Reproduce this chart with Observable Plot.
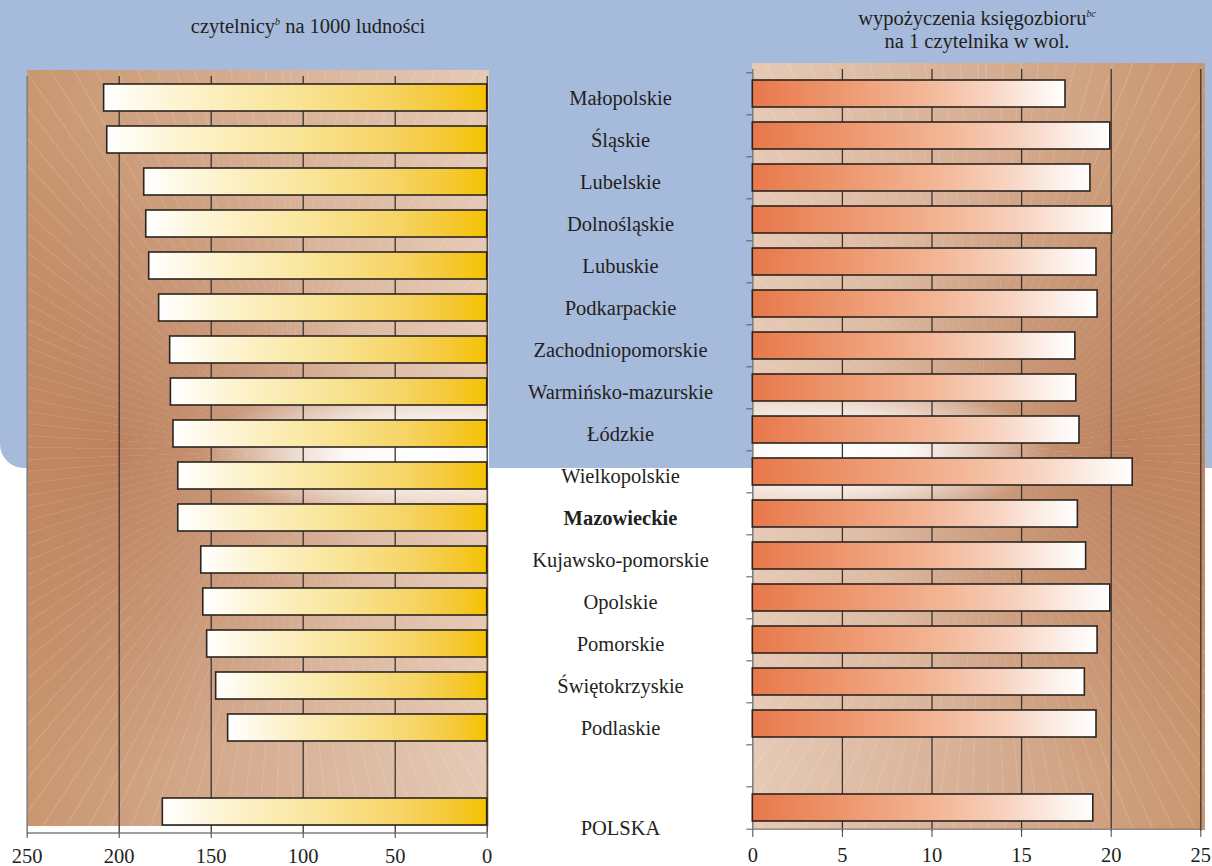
<!DOCTYPE html>
<html>
<head>
<meta charset="utf-8">
<script src="https://cdn.jsdelivr.net/npm/d3@7"></script>
<script src="https://cdn.jsdelivr.net/npm/@observablehq/plot@0.6"></script>
<style>
  body { margin: 0; background: #ffffff; font-family: "Liberation Serif", "Times New Roman", serif; color: #231f20; }
  #wrap { position: relative; width: 1212px; height: 866px; overflow: hidden; background: #ffffff; }
  #blue { position: absolute; left: 0; top: 0; width: 1212px; height: 468px; background: #a6bbdb; border-bottom-left-radius: 24px; }
  .bg { position: absolute; }
  #bgL {
    left: 27px; top: 70px; width: 462px; height: 756px;
    background:
      repeating-conic-gradient(from 0deg at 263px 380px, rgba(255,255,255,0.10) 0deg 0.25deg, rgba(255,255,255,0) 0.25deg 2.6deg),
      radial-gradient(ellipse 220px 70px at 393px 382px, rgba(255,255,255,1) 0%, rgba(255,255,255,0.9) 35%, rgba(255,255,255,0) 100%),
      radial-gradient(ellipse 260px 330px at 90px 380px, rgba(178,112,76,0.6) 0%, rgba(178,112,76,0) 100%),
      linear-gradient(to right, #c9966f 0%, #d6ae93 50%, #e6cab6 100%);
  }
  #bgR {
    left: 752px; top: 63px; width: 453px; height: 767px;
    background:
      repeating-conic-gradient(from 0deg at 233px 387px, rgba(255,255,255,0.10) 0deg 0.25deg, rgba(255,255,255,0) 0.25deg 2.6deg),
      radial-gradient(ellipse 220px 70px at 78px 389px, rgba(255,255,255,1) 0%, rgba(255,255,255,0.9) 35%, rgba(255,255,255,0) 100%),
      radial-gradient(ellipse 260px 330px at 370px 387px, rgba(178,112,76,0.6) 0%, rgba(178,112,76,0) 100%),
      linear-gradient(to right, #e6cab6 0%, #d6ae93 50%, #c9966f 100%);
  }
  .title { position: absolute; text-align: center; font-size: 20.5px; line-height: 23px; color: #231f20; }
  .title sup { font-size: 10px; font-style: italic; vertical-align: 8px; line-height: 0; }
  #tL { left: 108px; top: 15px; width: 400px; }
  #tR { left: 777px; top: 7px; width: 400px; }
  .plot { position: absolute; top: 0; }
  #pL { left: 0; }
  #pM { left: 488px; }
  #pR { left: 700px; }
  svg { overflow: visible; }
  #wrap svg text { font-family: "Liberation Serif", "Times New Roman", serif !important; font-size: 20.5px !important; font-variant: normal !important; }
</style>
</head>
<body>
<div id="wrap">
  <div id="blue"></div>
  <div id="bgL" class="bg"></div>
  <div id="bgR" class="bg"></div>
  <div id="tL" class="title">czytelnicy<sup>b</sup> na 1000 ludności</div>
  <div id="tR" class="title">wypożyczenia księgozbioru<sup>bc</sup><br>na 1 czytelnika w wol.</div>
  <div id="pL" class="plot"></div>
  <div id="pM" class="plot"></div>
  <div id="pR" class="plot"></div>
</div>
<script>
// ---------- data ----------
const regions = ["Małopolskie", "Śląskie", "Lubelskie", "Dolnośląskie", "Lubuskie", "Podkarpackie",
  "Zachodniopomorskie", "Warmińsko-mazurskie", "Łódzkie", "Wielkopolskie", "Mazowieckie",
  "Kujawsko-pomorskie", "Opolskie", "Pomorskie", "Świętokrzyskie", "Podlaskie", "POLSKA"];
// czytelnicy na 1000 ludności
const readers = [208.2, 206.5, 186.4, 185.3, 183.7, 178.3, 172.3, 171.9, 170.5, 167.9, 167.9,
  155.4, 154.3, 152.2, 147.3, 140.8, 176.3];
// wypożyczenia księgozbioru na 1 czytelnika w wol.
const loans = [17.45, 19.95, 18.84, 20.06, 19.18, 19.24, 18.0, 18.05, 18.23, 21.2, 18.14,
  18.6, 19.95, 19.24, 18.53, 19.18, 19.0];
const leftTicks = [250, 200, 150, 100, 50, 0];
const rightTicks = [0, 5, 10, 15, 20, 25];
const boldRegion = "Mazowieckie";
const totalRegion = "POLSKA";
const gapRow = " ";

// ---------- derived ----------
const yDomain = [...regions.filter(r => r !== totalRegion), gapRow, totalRegion];
const table = regions.map((r, i) => ({region: r, readers: readers[i], loans: loans[i]}));

const FONT = "'Liberation Serif', 'Times New Roman', serif";
const INK = "#231f20";
const GRID = "#3a3330";
const AXIS = "#808080";
const BAR_STROKE = "#2b231f";
const H = 866;
const style = {fontFamily: FONT, fontSize: "20.5px", color: INK, background: "none", overflow: "visible"};

function addDefs(svg, html) {
  const ns = "http://www.w3.org/2000/svg";
  const defs = document.createElementNS(ns, "defs");
  defs.innerHTML = html;
  svg.insertBefore(defs, svg.firstChild);
}

// ---------- left panel ----------
const mTL = 76, mBL = 34;
const stepL = (H - mTL - mBL) / yDomain.length;
const left = Plot.plot({
  width: 500, height: H,
  marginLeft: 26.7, marginRight: 13.3, marginTop: mTL, marginBottom: mBL,
  style,
  x: {domain: [0, 250], reverse: true, axis: null, label: null},
  y: {type: "band", domain: yDomain, paddingInner: 0.36, paddingOuter: 0.18, axis: null, label: null},
  marks: [
    Plot.ruleX(leftTicks.slice(0, 1), {stroke: AXIS, strokeWidth: 1.6}),
    Plot.ruleX(leftTicks.slice(1), {stroke: GRID, strokeWidth: 1.3}),
    Plot.ruleY([totalRegion], {dy: stepL / 2, stroke: AXIS, strokeWidth: 1.4}),
    Plot.barX(table, {x: "readers", y: "region", fill: "url(#gradL)", stroke: BAR_STROKE, strokeWidth: 1.6}),
    Plot.axisX({ticks: leftTicks, anchor: "bottom", label: null, tickSize: 6, tickPadding: 10, stroke: "#444",
      fill: INK, fontSize: 20.5, fontFamily: FONT, tickFormat: d3.format("d")})
  ]
});
addDefs(left, `<linearGradient id="gradL" x1="0" x2="1" y1="0" y2="0">
  <stop offset="0" stop-color="#ffffff"/><stop offset="0.2" stop-color="#fdf3cf"/><stop offset="0.5" stop-color="#f9e496"/>
  <stop offset="0.75" stop-color="#f6d362"/><stop offset="0.9" stop-color="#f5c730"/><stop offset="1" stop-color="#f5c300"/>
</linearGradient>`);
document.getElementById("pL").appendChild(left);

// ---------- middle labels ----------
const normalRows = table.filter(d => d.region !== boldRegion && d.region !== totalRegion);
const mid = Plot.plot({
  width: 264, height: H,
  marginLeft: 0, marginRight: 0, marginTop: mTL, marginBottom: mBL,
  style,
  x: {axis: null},
  y: {type: "band", domain: yDomain, paddingInner: 0.36, paddingOuter: 0.18, axis: null, label: null},
  marks: [
    Plot.text(normalRows, {y: "region", text: "region", frameAnchor: "middle", fontSize: 20.5, fontFamily: FONT, fill: INK}),
    Plot.text(table.filter(d => d.region === boldRegion), {y: "region", text: "region", frameAnchor: "middle", fontSize: 20.5, fontFamily: FONT, fontWeight: "bold", fill: INK}),
    Plot.text(table.filter(d => d.region === totalRegion), {y: "region", text: "region", frameAnchor: "middle", dy: 16, fontSize: 20.5, fontFamily: FONT, fill: INK})
  ]
});
document.getElementById("pM").appendChild(mid);

// ---------- right panel ----------
const mTR = 69, mBR = 35;
const stepR = (H - mTR - mBR) / yDomain.length;
const right = Plot.plot({
  width: 512, height: H,
  marginLeft: 52.3, marginRight: 11.7, marginTop: mTR, marginBottom: mBR,
  style,
  x: {domain: [0, 25], axis: null, label: null},
  y: {type: "band", domain: yDomain, paddingInner: 0.36, paddingOuter: 0.18, axis: null, label: null},
  marks: [
    Plot.ruleX(rightTicks.slice(0, 1), {stroke: AXIS, strokeWidth: 1.6}),
    Plot.ruleX(rightTicks.slice(1), {stroke: GRID, strokeWidth: 1.3}),
    Plot.ruleY([totalRegion], {dy: stepR / 2, stroke: AXIS, strokeWidth: 1.4}),
    Plot.axisY(yDomain, {anchor: "left", label: null, tickSize: 6, tickPadding: 0, tickFormat: () => "", stroke: "#555", dy: -stepR / 2}),
    Plot.axisY([totalRegion], {anchor: "left", label: null, tickSize: 6, tickPadding: 0, tickFormat: () => "", stroke: "#555", dy: stepR / 2}),
    Plot.barX(table, {x: "loans", y: "region", fill: "url(#gradR)", stroke: BAR_STROKE, strokeWidth: 1.6}),
    Plot.axisX({ticks: rightTicks, anchor: "bottom", label: null, tickSize: 6, tickPadding: 10, stroke: "#444",
      fill: INK, fontSize: 20.5, fontFamily: FONT, tickFormat: d3.format("d")})
  ]
});
addDefs(right, `<linearGradient id="gradR" x1="0" x2="1" y1="0" y2="0">
  <stop offset="0" stop-color="#e8784a"/><stop offset="0.3" stop-color="#ee9a72"/><stop offset="0.55" stop-color="#f3b797"/>
  <stop offset="0.75" stop-color="#f7d3c0"/><stop offset="0.9" stop-color="#fcefe8"/><stop offset="1" stop-color="#ffffff"/>
</linearGradient>`);
document.getElementById("pR").appendChild(right);
</script>
</body>
</html>
